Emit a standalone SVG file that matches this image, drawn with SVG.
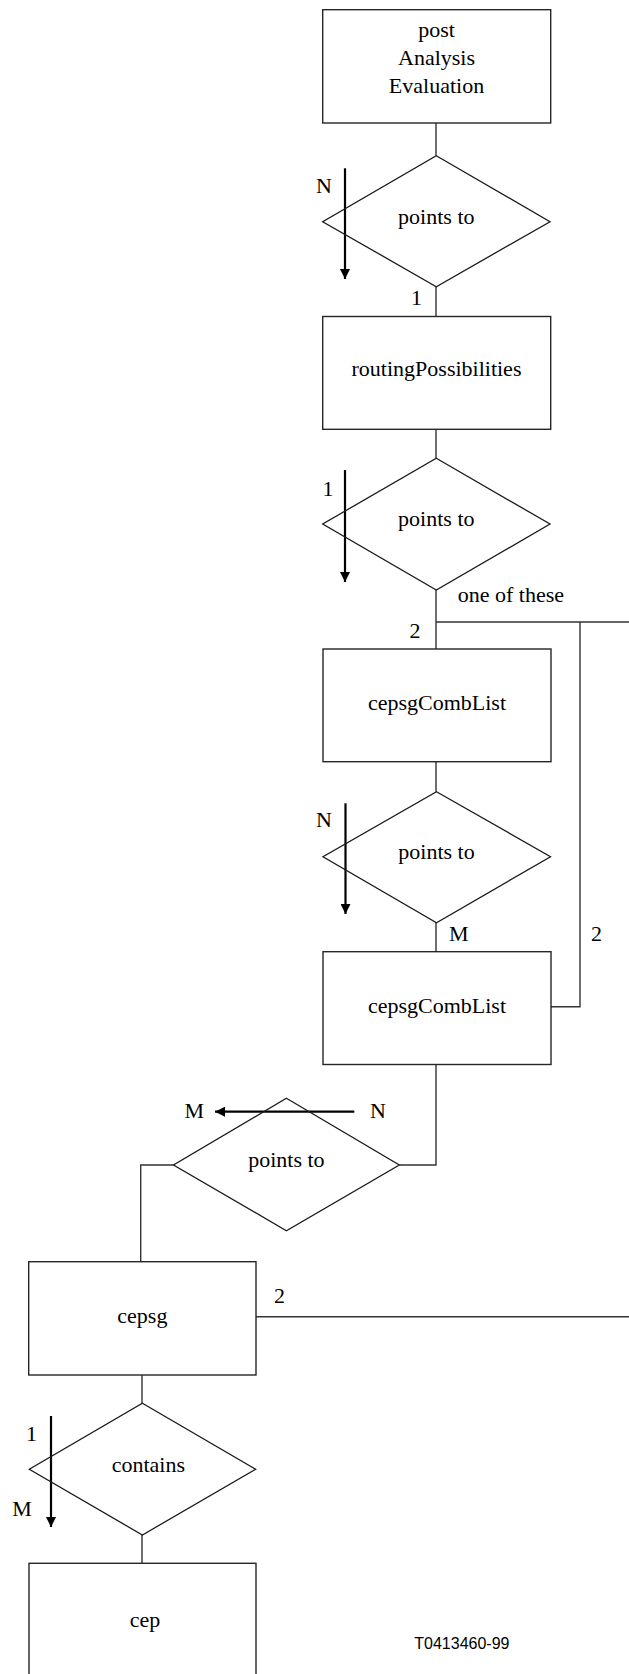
<svg xmlns="http://www.w3.org/2000/svg" width="629" height="1674" viewBox="0 0 629 1674">
<style>
.box{fill:#fff;stroke:#262626;stroke-width:1.4}
.dia{fill:none;stroke:#1a1a1a;stroke-width:1.3}
.con{fill:none;stroke:#333;stroke-width:1.4}
.arr{fill:none;stroke:#000;stroke-width:2.2}
.t{font-family:"Liberation Serif","Times New Roman",serif;font-size:22px;fill:#000}
.c{text-anchor:middle}
.s{font-family:"Liberation Sans",Arial,sans-serif;font-size:16px;fill:#000}
</style>
<defs>
<marker id="ah" markerWidth="10" markerHeight="10" viewBox="0 0 10 10" refX="10" refY="5" orient="auto" markerUnits="userSpaceOnUse">
<path d="M0,0 L10,5 L0,10 Z" fill="#000"/>
</marker>
</defs>
<g id="connectors">
<path class="con" d="M436,123 V155.7"/>
<path class="con" d="M436,286.7 V316.5"/>
<path class="con" d="M436,429.3 V458.3"/>
<path class="con" d="M436,590 V649"/>
<path class="con" d="M436,622 H629"/>
<path class="con" d="M580,622 V1006.7 H551"/>
<path class="con" d="M436,761.7 V791.7"/>
<path class="con" d="M436,922.7 V951.7"/>
<path class="con" d="M436,1064.5 V1165 H399.3"/>
<path class="con" d="M173.5,1165 H140.7 V1261.7"/>
<path class="con" d="M256,1316.7 H629"/>
<path class="con" d="M142,1375 V1403.3"/>
<path class="con" d="M142,1535 V1563.3"/>
<path class="arr" d="M345,168.3 V279" marker-end="url(#ah)"/>
<path class="arr" d="M345,470 V582" marker-end="url(#ah)"/>
<path class="arr" d="M345.5,803.3 V914" marker-end="url(#ah)"/>
<path class="arr" d="M354.3,1111.7 H215" marker-end="url(#ah)"/>
<path class="arr" d="M51,1416 V1527" marker-end="url(#ah)"/>
</g>
<g id="postAnalysisEvaluation">
<rect class="box" x="322.7" y="9.7" width="228" height="113.3"/>
<text class="t c" x="436.5" y="37.3">post</text>
<text class="t c" x="436.5" y="65">Analysis</text>
<text class="t c" x="436.5" y="92.7">Evaluation</text>
</g>
<g id="pointsTo1">
<polygon class="dia" points="436.3,155.7 550,221.7 436.3,286.7 322.7,221.7"/>
<text class="t c" x="436.3" y="224">points to</text>
</g>
<g id="routingPossibilities">
<rect class="box" x="322.7" y="316.5" width="228" height="112.8"/>
<text class="t c" x="436.5" y="376">routingPossibilities</text>
</g>
<g id="pointsTo2">
<polygon class="dia" points="436.3,458.3 550,524 436.3,590 322.7,524"/>
<text class="t c" x="436.3" y="526.3">points to</text>
</g>
<g id="cepsgCombList1">
<rect class="box" x="323" y="649" width="228" height="112.7"/>
<text class="t c" x="437" y="710">cepsgCombList</text>
</g>
<g id="pointsTo3">
<polygon class="dia" points="436.5,791.7 550.5,856.7 436.5,922.7 323,856.7"/>
<text class="t c" x="436.5" y="859">points to</text>
</g>
<g id="cepsgCombList2">
<rect class="box" x="323" y="951.7" width="228" height="112.8"/>
<text class="t c" x="437" y="1012.7">cepsgCombList</text>
</g>
<g id="pointsTo4">
<polygon class="dia" points="286.4,1098.3 399.3,1165 286.4,1230.7 173.5,1165"/>
<text class="t c" x="286.4" y="1166.5">points to</text>
</g>
<g id="cepsg">
<rect class="box" x="28.7" y="1261.7" width="227.3" height="113.3"/>
<text class="t c" x="142.4" y="1323.3">cepsg</text>
</g>
<g id="contains">
<polygon class="dia" points="142.4,1403.3 255.6,1469.3 142.4,1535 29.3,1469.3"/>
<text class="t c" x="148.3" y="1471.7">contains</text>
</g>
<g id="cep">
<rect class="box" x="29" y="1563.3" width="227" height="120"/>
<text class="t c" x="145" y="1626.7">cep</text>
</g>
<g id="labels">
<text class="t" x="316" y="192.7">N</text>
<text class="t" x="411" y="305">1</text>
<text class="t" x="322.5" y="496">1</text>
<text class="t" x="457.7" y="601.7">one of these</text>
<text class="t" x="409.5" y="638.3">2</text>
<text class="t" x="316" y="827.3">N</text>
<text class="t" x="449" y="940.7">M</text>
<text class="t" x="591" y="940.7">2</text>
<text class="t" x="184.5" y="1118.3">M</text>
<text class="t" x="370" y="1118.3">N</text>
<text class="t" x="274" y="1303.3">2</text>
<text class="t" x="26" y="1441">1</text>
<text class="t" x="12.3" y="1516">M</text>
<text class="s" x="414.3" y="1649.3">T0413460-99</text>
</g>
</svg>
